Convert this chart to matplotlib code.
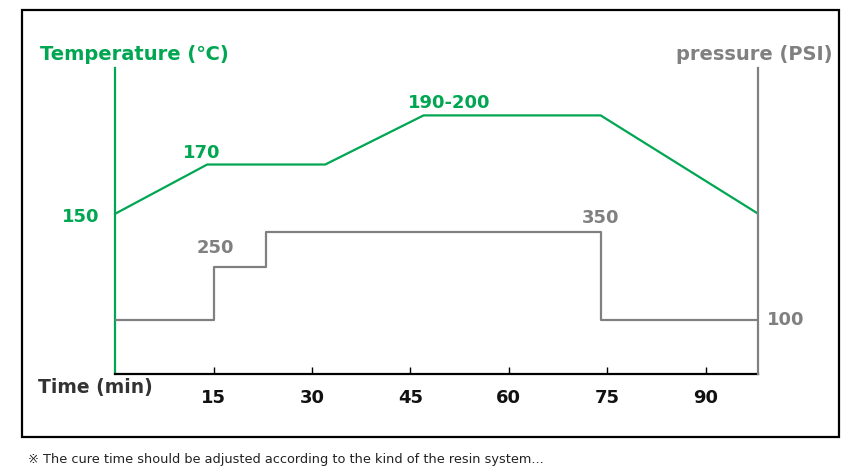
import matplotlib.pyplot as plt
from matplotlib.patches import Rectangle

# cure cycle data (schematic)
temp_time = [0, 14, 32, 47, 74, 98]
temp_vals = [150, 170, 170, 190, 190, 150]

press_time = [0, 15, 23, 74, 98]
press_vals = [100, 250, 350, 100, 100]

tick_times = [15, 30, 45, 60, 75, 90]
tick_labels = ['15', '30', '45', '60', '75', '90']

green = '#00a651'
gray = '#808080'

plt.rcParams['font.family'] = ['DejaVu Sans', 'Noto Sans CJK SC']

fig = plt.figure(figsize=(8.64, 4.76), dpi=100)

# outer frame
fig.patches.append(Rectangle((22 / 864, 1 - 437 / 476), (839 - 22) / 864, (437 - 10) / 476,
                             transform=fig.transFigure, fill=False, edgecolor='black', lw=1.6))

ax = fig.add_axes([115.4 / 864, 102 / 476, (758 - 115.4) / 864, 306 / 476])
ax2 = ax.twinx()

ax.plot(temp_time, temp_vals, color=green, lw=1.6, solid_joinstyle='miter')
ax2.plot(press_time, press_vals, color=gray, lw=1.6, drawstyle='steps-post')

ax.set_xlim(0, 98)
ax.set_ylim(84.7, 209.3)
ax2.set_ylim(-52.5, 814.7)

for a in (ax, ax2):
    a.spines['top'].set_visible(False)
    a.set_yticks([])
ax.spines['right'].set_visible(False)
ax2.spines['left'].set_visible(False)
ax2.spines['bottom'].set_visible(False)
ax.spines['left'].set_color(green)
ax.spines['left'].set_linewidth(1.6)
ax2.spines['right'].set_color(gray)
ax2.spines['right'].set_linewidth(1.6)
ax.spines['bottom'].set_linewidth(1.6)

ax.set_xticks(tick_times)
ax.set_xticklabels(tick_labels, fontsize=13, fontweight='bold', color='#111111')
ax.tick_params(axis='x', direction='in', length=5, width=1, pad=11)

# value labels
lbl = dict(fontsize=13, fontweight='bold', textcoords='offset pixels', va='center')
ax.annotate('150', (temp_time[0], temp_vals[0]), xytext=(-16, -3), ha='right', color=green, **lbl)
ax.annotate('170', (temp_time[1], temp_vals[1]), xytext=(-6, 12), ha='center', color=green, **lbl)
ax.annotate('190-200', (temp_time[3], temp_vals[3]), xytext=(26, 12), ha='center', color=green, **lbl)
ax2.annotate('250', (press_time[1], press_vals[1]), xytext=(2, 19), ha='center', color=gray, **lbl)
ax2.annotate('350', (press_time[3], press_vals[2]), xytext=(0, 14), ha='center', color=gray, **lbl)
ax2.annotate('100', (press_time[4], press_vals[4]), xytext=(9, 0), ha='left', color=gray, **lbl)

# axis titles
fig.text(40 / 864, 1 - 54 / 476, 'Temperature (℃)', color=green, fontsize=14, fontweight='bold',
         ha='left', va='center')
fig.text(832 / 864, 1 - 54 / 476, 'pressure (PSI)', color=gray, fontsize=14, fontweight='bold',
         ha='right', va='center')
fig.text(38 / 864, 1 - 388 / 476, 'Time (min)', color='#333333', fontsize=13.5, fontweight='bold',
         ha='left', va='center')

fig.text(28 / 864, 1 - 459 / 476,
         '※ The cure time should be adjusted according to the kind of the resin system...',
         fontsize=9.3, color='#222222', ha='left', va='center')

fig.savefig('out.png', dpi=100)
